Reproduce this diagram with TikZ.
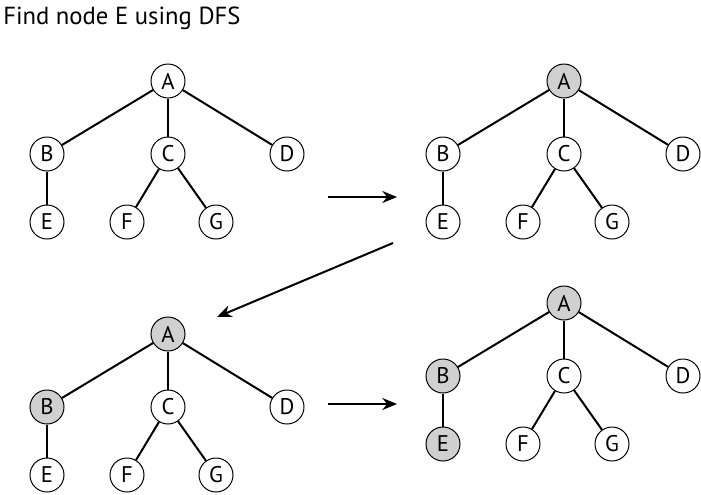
\documentclass[tikz,border=0pt]{standalone}
\usepackage{fontspec}
\setmainfont{PT Sans}
\usetikzlibrary{arrows.meta}
\definecolor{visited}{RGB}{208,208,208}
\tikzset{
  vtx/.style={draw=black, line width=0.75pt, circle, fill=white, minimum size=25.5pt,
    inner sep=0pt, font=\fontsize{17}{17}\selectfont},
  seen/.style={fill=visited},
  edge/.style={draw=black, line width=1.5pt},
  step arrow/.style={draw=black, line width=1.5pt, -{Stealth[length=11pt,width=9pt]}}
}
% one tree; #1 name prefix, #2 position of A, #3/#4/#5 extra style for A/B/E
\newcommand{\dfstree}[5]{%
  \begin{scope}[shift={#2}]
    \node[vtx,#3] (#1A) at (0,0) {A};
    \node[vtx,#4] (#1B) at (-121,73) {B};
    \node[vtx] (#1C) at (0,73) {C};
    \node[vtx] (#1D) at (119,73) {D};
    \node[vtx,#5] (#1E) at (-121,141) {E};
    \node[vtx] (#1F) at (-41,141) {F};
    \node[vtx] (#1G) at (48,141) {G};
    \draw[edge] (#1A) -- (#1B);
    \draw[edge] (#1A) -- (#1C);
    \draw[edge] (#1A) -- (#1D);
    \draw[edge] (#1B) -- (#1E);
    \draw[edge] (#1C) -- (#1F);
    \draw[edge] (#1C) -- (#1G);
  \end{scope}}

\begin{document}
\begin{tikzpicture}[x=0.75pt, y=-0.75pt]
  \useasboundingbox (0,0) rectangle (701,494);
  \node[anchor=base west, inner sep=0pt, font=\fontsize{18.5}{18.5}\selectfont] (title) at (3,24) {Find node E using DFS};

  \dfstree{s}{(168,81)}{}{}{}
  \dfstree{a}{(564,81)}{seen}{}{}
  \dfstree{b}{(168,334)}{seen}{seen}{}
  \dfstree{e}{(564,303)}{seen}{seen}{seen}

  \coordinate (first0) at (328,197);
  \coordinate (first1) at (397,197);
  \coordinate (second0) at (393,243);
  \coordinate (second1) at (217,317);
  \coordinate (third0) at (328,404);
  \coordinate (third1) at (397,404);
  \draw[step arrow] (first0) -- (first1);
  \draw[step arrow] (second0) -- (second1);
  \draw[step arrow] (third0) -- (third1);
\end{tikzpicture}
\end{document}
